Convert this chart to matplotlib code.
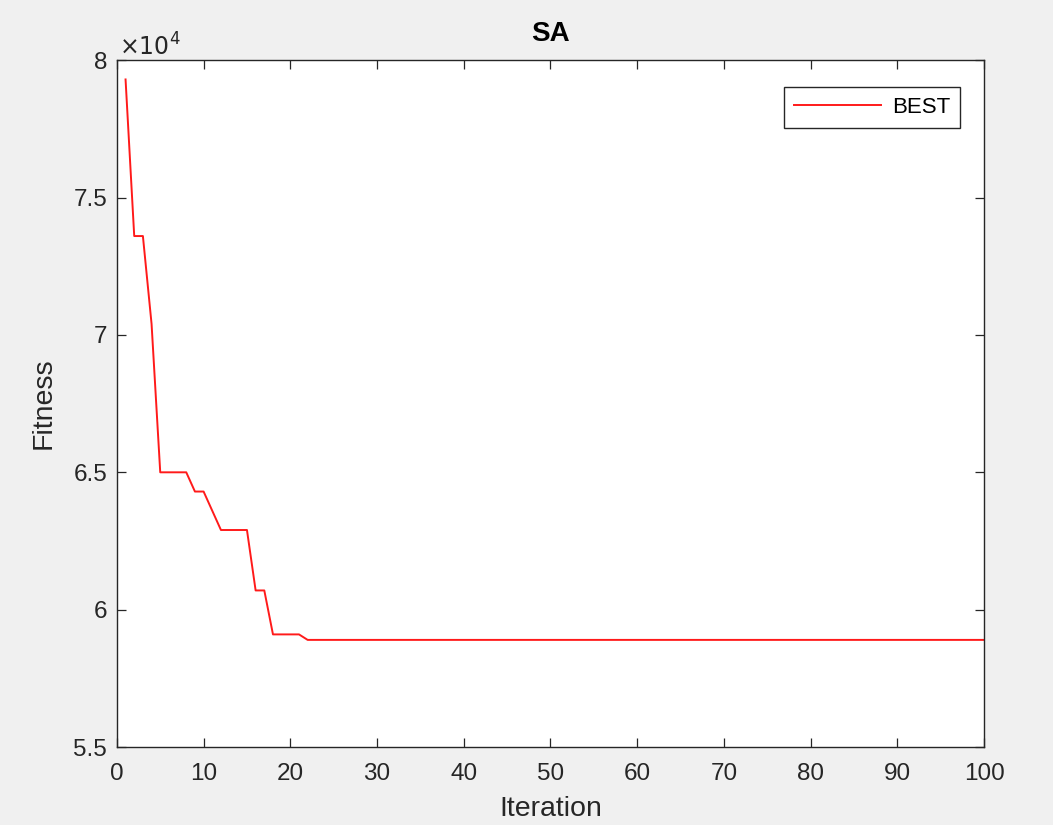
import numpy as np
import matplotlib
matplotlib.use('Agg')
import matplotlib.pyplot as plt
from matplotlib.ticker import FuncFormatter

plt.rcParams.update({
    'font.family': ['Liberation Sans', 'DejaVu Sans'],
    'xtick.direction': 'in',
    'ytick.direction': 'in',
    'xtick.top': True,
    'ytick.right': True,
    'axes.edgecolor': '#262626',
    'xtick.color': '#262626',
    'ytick.color': '#262626',
})

# best fitness per iteration
iteration = np.arange(1, 101)
best_head = [79300, 73600, 73600, 70400, 65000, 65000, 65000, 65000,
             64300, 64300, 63600, 62900, 62900, 62900, 62900, 60700,
             60700, 59100, 59100, 59100, 59100]
best_tail = [58900] * (100 - len(best_head))
best = np.array(best_head + best_tail)

fig = plt.figure(figsize=(10.53, 8.25), dpi=100, facecolor='#f0f0f0')
ax = fig.add_axes([0.111, 0.0945, 0.8235, 0.8325])
ax.set_facecolor('white')

ax.plot(iteration, best, color='#ff1a1a', lw=1.4, label='BEST')

ax.set_xlim(0, 100)
ax.set_ylim(55000, 80000)
ax.set_xticks(np.arange(0, 101, 10))
ax.set_yticks(np.arange(55000, 80001, 5000))
ax.yaxis.set_major_formatter(FuncFormatter(lambda v, p: f'{v / 1e4:g}'))
ax.tick_params(labelsize=17.5, length=6.5, width=0.9)
ax.tick_params(axis='x', pad=11.5)
ax.tick_params(axis='y', pad=7)
for s in ax.spines.values():
    s.set_linewidth(1.0)

ax.text(0.002, 0.999, r'$\times10^4$', transform=ax.transAxes, fontsize=17,
        color='#262626', ha='left', va='bottom')

ax.set_xlabel('Iteration', fontsize=20.5, color='#262626', labelpad=8)
ax.set_ylabel('Fitness', fontsize=20.5, color='#262626', labelpad=12)
ax.set_title('SA', fontsize=20, fontweight='bold', color='black', pad=13.5)

leg = ax.legend(loc='upper right', fontsize=16, fancybox=False, framealpha=1,
                edgecolor='#262626', borderpad=0.45, handlelength=3.9,
                handletextpad=0.5, borderaxespad=0,
                bbox_to_anchor=(0.9725, 0.9607))
leg.get_frame().set_linewidth(1.0)

fig.savefig('out.png', dpi=100, facecolor=fig.get_facecolor())
